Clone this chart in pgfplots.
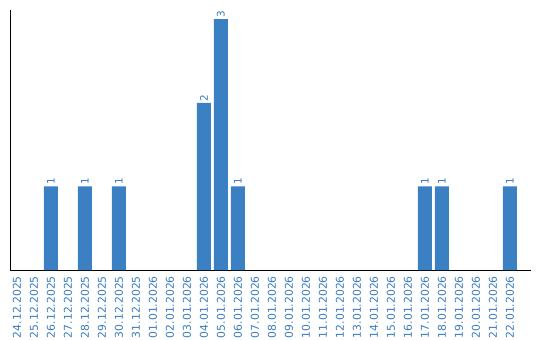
\documentclass[border=0pt]{standalone}
\usepackage{pgfplots}
\pgfplotsset{compat=1.18}
\usepackage{fontspec}
\setmainfont{DejaVu Sans}
\definecolor{barblue}{RGB}{60,128,196}
\definecolor{txtblue}{RGB}{58,124,192}
\begin{document}
\begin{tikzpicture}
\path[use as bounding box] (-10.5bp,-70bp) rectangle (529.5bp,270bp);
\begin{axis}[
  at={(0,0)}, anchor=south west,
  scale only axis, width=520.5bp, height=260bp,
  xmin=-0.38, xmax=30.24, ymin=0, ymax=3.11,
  axis lines*=left,
  axis line style={black, line width=1pt},
  ytick=\empty,
  xtick={0,...,29},
  xticklabels={24.12.2025,25.12.2025,26.12.2025,27.12.2025,28.12.2025,29.12.2025,30.12.2025,31.12.2025,01.01.2026,02.01.2026,03.01.2026,04.01.2026,05.01.2026,06.01.2026,07.01.2026,08.01.2026,09.01.2026,10.01.2026,11.01.2026,12.01.2026,13.01.2026,14.01.2026,15.01.2026,16.01.2026,17.01.2026,18.01.2026,19.01.2026,20.01.2026,21.01.2026,22.01.2026},
  major tick length=0pt,
  x tick label style={rotate=90, anchor=east, font=\fontsize{10.8bp}{11bp}\selectfont, text=txtblue, inner sep=0pt},
  xticklabel shift=6bp,
  ybar, bar width=14bp,
  point meta=explicit symbolic,
  nodes near coords,
  nodes near coords style={rotate=90, anchor=west, inner sep=1.5bp, text=txtblue, font=\fontsize{10.4bp}{11bp}\selectfont},
  clip=false,
]
\addplot[fill=barblue, draw=none] coordinates {
 (2,1) [1] (4,1) [1] (6,1) [1] (11,2) [2] (12,3) [3] (13,1) [1] (24,1) [1] (25,1) [1] (29,1) [1]
};
\end{axis}
\end{tikzpicture}
\end{document}
